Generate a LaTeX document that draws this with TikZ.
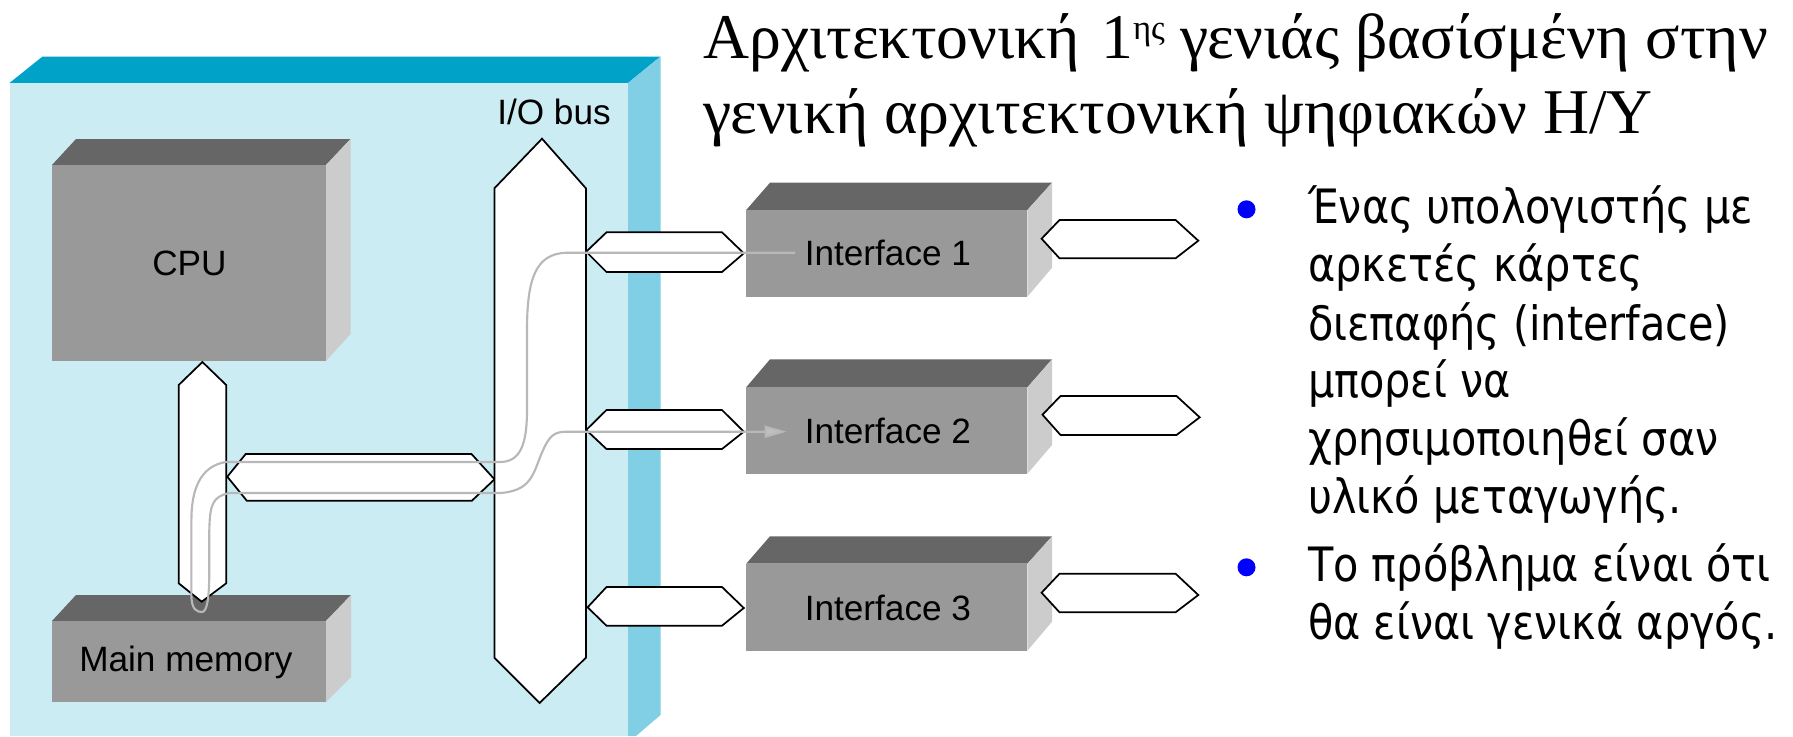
\documentclass[tikz,border=0pt]{standalone}
\usepackage{fontspec}
\usetikzlibrary{arrows.meta}
\setmainfont{Liberation Sans}
\newfontfamily\titlefont{Liberation Serif}
\newfontfamily\bodyfont[FakeStretch=0.875]{DejaVu Sans}
\definecolor{boardfront}{HTML}{CBECF3}
\definecolor{boardtop}{HTML}{00A2C7}
\definecolor{boardside}{HTML}{80CFE4}
\definecolor{boxfront}{HTML}{999999}
\definecolor{boxtop}{HTML}{666666}
\definecolor{boxside}{HTML}{CCCCCC}
\definecolor{signal}{HTML}{B8B8B8}
\tikzset{
  bushex/.style={draw=black,fill=white,line width=1.3pt,miter limit=10},
  label/.style={inner sep=0pt,anchor=base west,text=black,font=\fontsize{26.4}{30}\selectfont},
  titleline/.style={inner sep=0pt,anchor=base west,text=black,font=\titlefont\fontsize{47.8}{58}\selectfont},
  bodyline/.style={inner sep=0pt,anchor=base west,text=black,font=\bodyfont\fontsize{35.5}{43}\selectfont},
  bulletdot/.style={circle,fill=blue,inner sep=0pt,minimum size=13.5pt},
  signalline/.style={draw=signal,line width=1.6pt,line join=round}
}
% #1 x left, #2 x right, #3 back left x, #4 back right x, #5 top back y, #6 front top y, #7 front bottom y, #8 side bottom y
\newcommand{\cuboid}[8]{%
  \fill[boxtop] (#1,#6) -- (#3,#5) -- (#4,#5) -- (#2,#6) -- cycle;
  \fill[boxside] (#2,#6) -- (#4,#5) -- (#4,#8) -- (#2,#7) -- cycle;
  \fill[boxfront] (#1,#6) rectangle (#2,#7);
}
\begin{document}
\begin{tikzpicture}[x=0.75pt,y=-0.75pt]
\useasboundingbox (0,0) rectangle (1793,736);
\fill[white] (0,0) rectangle (1793,736);
% board
\fill[boardtop] (9.5,83) -- (42.5,56.5) -- (660.5,56.5) -- (628,83) -- cycle;
\fill[boardside] (628,83) -- (660.5,56.5) -- (660.5,715) -- (636,736) -- (628,736) -- cycle;
\fill[boardfront] (9.5,83) rectangle (628,736);
% boxes
\cuboid{52}{326}{76}{350.5}{139}{165}{361}{334}
\cuboid{52}{326}{76}{351}{595}{621}{702}{677}
\cuboid{746.2}{1027.4}{770}{1052}{182.7}{210}{296.7}{267.7}
\cuboid{746.2}{1027.4}{770}{1052}{359.3}{387.3}{473.7}{445}
\cuboid{746.2}{1027.4}{770}{1052}{536.3}{563.7}{650.7}{621.7}
% buses
\draw[bushex] (202.4,362) -- (226.2,385) -- (226.2,583.3) -- (201.7,601.7) -- (178.7,583.3) -- (178.7,385) -- cycle;
\draw[bushex] (227.3,476.7) -- (245.7,454) -- (471.5,454) -- (494.5,479.3) -- (471.9,500.7) -- (246.8,500.7) -- cycle;
\draw[bushex] (542,138.7) -- (585.9,188.3) -- (585.9,657.7) -- (539.6,703) -- (494.4,657.7) -- (494.4,188.3) -- cycle;
\draw[bushex] (586.2,251.7) -- (606.5,232.3) -- (722,232.3) -- (743.8,253.3) -- (722,272) -- (606.5,272) -- cycle;
\draw[bushex] (586.2,430) -- (606.5,410) -- (722,410) -- (743.8,431.7) -- (722,449) -- (606.5,449) -- cycle;
\draw[bushex] (587.6,607.3) -- (606.5,587) -- (722,587) -- (743.8,608) -- (722,625.7) -- (606.5,625.7) -- cycle;
\draw[bushex] (1041.6,238.7) -- (1059.5,220) -- (1175.6,220) -- (1198.3,240.7) -- (1175.6,258.3) -- (1059.5,258.3) -- cycle;
\draw[bushex] (1042.5,414.7) -- (1060.5,396) -- (1176.5,396) -- (1199.7,417.3) -- (1176.5,435) -- (1060.5,435) -- cycle;
\draw[bushex] (1041.6,592.7) -- (1059.5,573.7) -- (1175.6,573.7) -- (1198.3,595) -- (1175.6,612.3) -- (1059.5,612.3) -- cycle;
% labels
\node[label] (cpu) at (152,275) {CPU};
\node[label] (mem) at (79,671.7) {Main memory};
\node[label] (iobus) at (497,124) {I/O bus};
\node[label] (if1) at (804.5,265.7) {Interface 1};
\node[label] (if2) at (804.5,443.3) {Interface 2};
\node[label] (if3) at (804.5,620.7) {Interface 3};
% signal path between interface 1 and interface 2
\coordinate (sigstart) at (795,252.7);
\coordinate (sigend) at (786.7,431.7);
\draw[signalline,-{Triangle[length=16.5pt,width=9pt,fill=signal!90!white]}] (sigstart) -- (566,252.7)
  .. controls (536,254) and (527,278) .. (527,330) -- (527,410)
  .. controls (527,445) and (520,462) .. (500,462) -- (226,462)
  .. controls (200,466) and (191.4,490) .. (191.4,520) -- (191.4,595)
  .. controls (191.4,610) and (197,612) .. (202,612)
  .. controls (208,612) and (209.3,592) .. (209.3,570) -- (209.3,530)
  .. controls (210,505) and (212,497) .. (229,493) -- (501,493)
  .. controls (535,490) and (533,470) .. (545,446)
  .. controls (550,436) and (555,431.7) .. (566,431.7) -- (sigend);
% title
\node[titleline] (title1) at (703,58.5) {Αρχιτεκτονική\hspace{4pt} 1\raisebox{14pt}{\fontsize{26}{26}\selectfont ης} γενιάς βασίσμένη στην};
\node[titleline] (title2) at (703,133.5) {γενική αρχιτεκτονική ψηφιακών Η/Υ};
% bullets
\node[bulletdot] (b1) at (1246.5,209.3) {};
\node[bulletdot] (b2) at (1246.5,567.3) {};
\node[bodyline] (l1) at (1307.8,223.3) {Ένας υπολογιστής με};
\node[bodyline] (l2) at (1307.8,281.7) {αρκετές κάρτες};
\node[bodyline] (l3) at (1307.8,340) {διεπαφής (interface)};
\node[bodyline] (l4) at (1307.8,397.7) {μπορεί να};
\node[bodyline] (l5) at (1307.8,455) {χρησιμοποιηθεί σαν};
\node[bodyline] (l6) at (1307.8,513.3) {υλικό μεταγωγής.};
\node[bodyline] (l7) at (1307.8,581.7) {Το πρόβλημα είναι ότι};
\node[bodyline] (l8) at (1307.8,639) {θα είναι γενικά αργός.};
\end{tikzpicture}
\end{document}
